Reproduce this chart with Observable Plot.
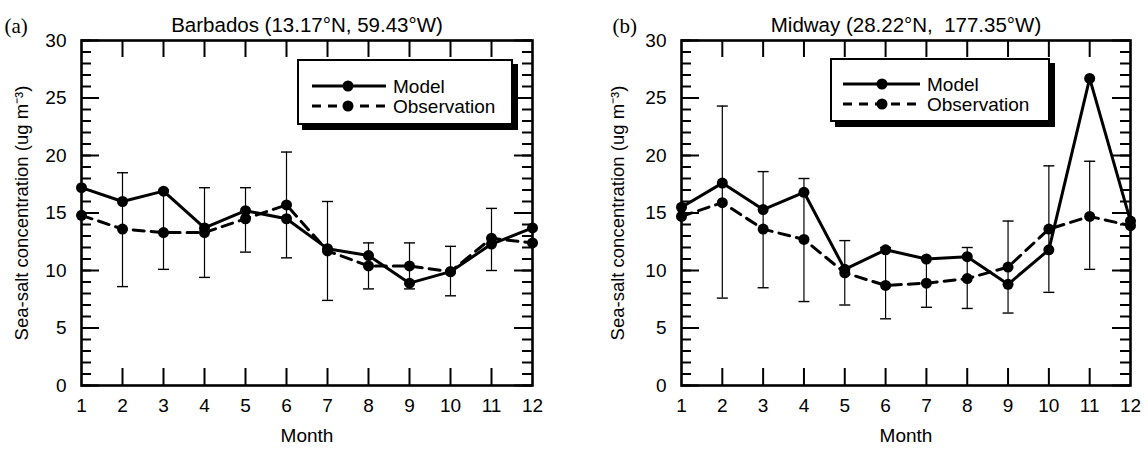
<!DOCTYPE html>
<html>
<head>
<meta charset="utf-8">
<script src="https://cdn.jsdelivr.net/npm/d3@7"></script>
<script src="https://cdn.jsdelivr.net/npm/@observablehq/plot@0.6"></script>
<style>
  html, body { margin: 0; padding: 0; background: #fff; }
  #wrap { position: relative; width: 1148px; height: 452px; overflow: hidden; background: #fff; }
  #wrap > svg, #wrap > figure { position: absolute; top: 0; margin: 0; }
  .legend { position: absolute; box-sizing: border-box; border: 2px solid #000; background: #fff; box-shadow: 5px 5px 0 #000; }
  .legend svg { display: block; }
</style>
</head>
<body>
<div id="wrap"></div>
<script>
// ---------- data ----------
const months = [1, 2, 3, 4, 5, 6, 7, 8, 9, 10, 11, 12];
const yTicks = [0, 5, 10, 15, 20, 25, 30];
const yMinorTicks = d3.range(0, 31);
const innerMonthTicks = [2, 3, 4, 5, 6, 7, 8, 9, 10, 11];

const seriesNames = ["Model", "Observation"];

// (a) Barbados
const barbadosTitle = "Barbados (13.17\u00B0N, 59.43\u00B0W)";
const barbadosModel = [17.2, 16.0, 16.9, 13.7, 15.2, 14.5, 11.9, 11.3, 8.9, 9.9, 12.3, 13.7];
const barbadosObs   = [14.8, 13.6, 13.3, 13.3, 14.5, 15.7, 11.7, 10.4, 10.4, 9.9, 12.8, 12.4];
const barbadosLow   = [null, 8.6, 10.1, 9.4, 11.6, 11.1, 7.4, 8.4, 8.4, 7.8, 10.0, null];
const barbadosHigh  = [null, 18.5, 17.0, 17.2, 17.2, 20.3, 16.0, 12.4, 12.4, 12.1, 15.4, null];

// (b) Midway
const midwayTitle = "Midway (28.22\u00B0N,  177.35\u00B0W)";
const midwayModel = [15.5, 17.6, 15.3, 16.8, 10.1, 11.8, 11.0, 11.2, 8.8, 11.8, 26.7, 14.3];
const midwayObs   = [14.7, 15.9, 13.6, 12.7, 9.8, 8.7, 8.9, 9.3, 10.3, 13.6, 14.7, 13.9];
const midwayLow   = [null, 7.6, 8.5, 7.3, 7.0, 5.8, 6.8, 6.7, 6.3, 8.1, 10.1, null];
const midwayHigh  = [null, 24.3, 18.6, 18.0, 12.6, 12.0, 11.0, 12.0, 14.3, 19.1, 19.5, null];

const yLabel = "Sea-salt concentration (ug m\u207B\u00B3)";
const xLabel = "Month";

// ---------- drawing ----------
const FONT = "'Liberation Sans', Arial, Helvetica, sans-serif";
const SERIF = "'Liberation Serif', 'Times New Roman', serif";
const capSymbol = {
  draw(ctx, size) {
    const r = Math.sqrt(size / Math.PI);
    ctx.moveTo(-r, 0);
    ctx.lineTo(r, 0);
  }
};

function panel({title, tag, tagDx, model, obs, low, high, width, marginLeft, marginRight, labelDx}) {
  const marginTop = 40, marginBottom = 67, height = 452;
  const W = width - marginLeft - marginRight;
  const H = height - marginTop - marginBottom;
  const rows = months.map((m, i) => ({month: m, model: model[i], obs: obs[i], low: low[i], high: high[i]}));
  const err = rows.filter(d => d.low != null && d.high != null);
  const tickStyle = {stroke: "black", strokeWidth: 2};
  return Plot.plot({
    width, height, marginLeft, marginRight, marginTop, marginBottom,
    style: {fontFamily: FONT, fontSize: "19px", background: "white", color: "black", overflow: "visible"},
    x: {domain: [1, 12]},
    y: {domain: [0, 30]},
    marks: [
      // error bars
      Plot.ruleX(err, {x: "month", y1: "low", y2: "high", stroke: "black", strokeWidth: 1.2}),
      Plot.dot(err, {x: "month", y: "low", symbol: capSymbol, r: 5.5, stroke: "black", strokeWidth: 1.4, fill: "none"}),
      Plot.dot(err, {x: "month", y: "high", symbol: capSymbol, r: 5.5, stroke: "black", strokeWidth: 1.4, fill: "none"}),
      // series
      Plot.line(rows, {x: "month", y: "obs", stroke: "black", strokeWidth: 3, strokeDasharray: "11,7"}),
      Plot.line(rows, {x: "month", y: "model", stroke: "black", strokeWidth: 3}),
      Plot.dot(rows, {x: "month", y: "obs", r: 5.5, fill: "black", stroke: "none"}),
      Plot.dot(rows, {x: "month", y: "model", r: 5.5, fill: "black", stroke: "none"}),
      // inward ticks: y minor & major on both sides
      Plot.tickY(yMinorTicks, {y: d => d, insetRight: W - 10, ...tickStyle}),
      Plot.tickY(yMinorTicks, {y: d => d, insetLeft: W - 10, ...tickStyle}),
      Plot.tickY(yTicks, {y: d => d, insetRight: W - 18, ...tickStyle}),
      Plot.tickY(yTicks, {y: d => d, insetLeft: W - 18, ...tickStyle}),
      // inward ticks: x on top and bottom
      Plot.tickX(innerMonthTicks, {x: d => d, insetTop: H - 17, ...tickStyle}),
      Plot.tickX(innerMonthTicks, {x: d => d, insetBottom: H - 17, ...tickStyle}),
      Plot.frame({stroke: "black", strokeWidth: 2.6}),
      // axes
      Plot.axisY({ticks: yTicks, tickSize: 0, tickPadding: 15, fontSize: 19, label: null}),
      Plot.axisX({ticks: months, tickSize: 0, tickPadding: 13, fontSize: 19, label: null}),
      // axis labels
      Plot.text([yLabel], {text: d => d, frameAnchor: "left", textAnchor: "middle", lineAnchor: "middle", rotate: -90, dx: labelDx, fontSize: 18.5, fill: "black"}),
      Plot.text([xLabel], {text: d => d, frameAnchor: "bottom", textAnchor: "middle", dy: 56, fontSize: 19, fill: "black"}),
      // title & panel tag
      Plot.text([title], {text: d => d, frameAnchor: "top", textAnchor: "middle", dy: -23, fontSize: 20.5, fill: "black"}),
      Plot.text([tag], {text: d => d, frameAnchor: "top-left", textAnchor: "start", dx: tagDx, dy: -22, fontSize: 21, fontFamily: SERIF, fill: "black"})
    ]
  });
}

function legend({left, top, width, height, rowY, lineX1, lineX2, dotX, textX}) {
  const div = document.createElement("div");
  div.className = "legend";
  Object.assign(div.style, {left: left + "px", top: top + "px", width: width + "px", height: height + "px"});
  const w = width - 4, h = height - 4;
  const svg = d3.create("svg").attr("width", w).attr("height", h);
  const dashes = [null, "9,7"];
  seriesNames.forEach((name, i) => {
    const y = rowY[i];
    svg.append("line").attr("x1", lineX1).attr("x2", lineX2).attr("y1", y).attr("y2", y)
      .attr("stroke", "black").attr("stroke-width", 3).attr("stroke-dasharray", dashes[i]);
    svg.append("circle").attr("cx", dotX).attr("cy", y).attr("r", 5.5).attr("fill", "black");
    svg.append("text").attr("x", textX).attr("y", y).attr("dy", "0.35em")
      .attr("font-family", FONT).attr("font-size", 19).attr("fill", "black").text(name);
  });
  div.appendChild(svg.node());
  return div;
}

const wrap = document.getElementById("wrap");

const left = panel({
  title: barbadosTitle, tag: "(a)", tagDx: -77,
  model: barbadosModel, obs: barbadosObs, low: barbadosLow, high: barbadosHigh,
  width: 574, marginLeft: 81, marginRight: 42, labelDx: -59
});
left.style.left = "0px";
wrap.appendChild(left);

const right = panel({
  title: midwayTitle, tag: "(b)", tagDx: -69,
  model: midwayModel, obs: midwayObs, low: midwayLow, high: midwayHigh,
  width: 574, marginLeft: 107, marginRight: 18, labelDx: -63
});
right.style.left = "574px";
wrap.appendChild(right);

wrap.appendChild(legend({left: 297, top: 59, width: 216, height: 66, rowY: [25, 45], lineX1: 13, lineX2: 87, dotX: 49, textX: 94}));
wrap.appendChild(legend({left: 830, top: 58, width: 220, height: 64, rowY: [24, 44], lineX1: 11, lineX2: 88, dotX: 50, textX: 95}));
</script>
</body>
</html>
